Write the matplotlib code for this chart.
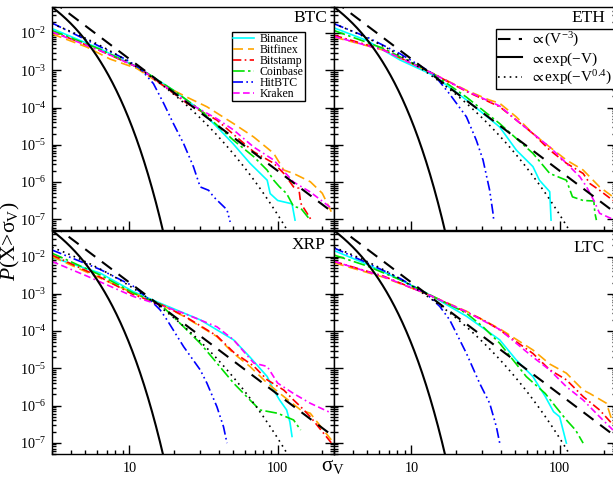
import numpy as np
import matplotlib
matplotlib.use('Agg')
import matplotlib.pyplot as plt
from matplotlib.ticker import LogLocator, NullFormatter, LogFormatterSciNotation
from matplotlib.lines import Line2D

plt.rcParams['font.family'] = ['Liberation Serif', 'DejaVu Serif']
plt.rcParams['mathtext.fontset'] = 'custom'
plt.rcParams['mathtext.rm'] = 'Liberation Serif'
plt.rcParams['mathtext.it'] = 'Liberation Serif:italic'
plt.rcParams['mathtext.bf'] = 'Liberation Serif:bold'
plt.rcParams['mathtext.fallback'] = 'stix'

# ---------------- data ----------------
exchanges = ['Binance', 'Bitfinex', 'Bitstamp', 'Coinbase', 'HitBTC', 'Kraken']
panels = ['BTC', 'ETH', 'XRP', 'LTC']

# BTC
btc_binance_v = [3, 6.3, 11.8, 19.8, 30, 41, 50, 65, 85, 89, 100, 125, 131]
btc_binance_p = [1.32e-2, 3.8e-3, 1.12e-3, 2.9e-4, 8.5e-5, 2.45e-5, 1.07e-5, 3.2e-6, 1.12e-6, 4.9e-7, 3.2e-7, 2.6e-7, 9.5e-8]
btc_bitfinex_v = [3, 5.15, 7.4, 11.2, 16.1, 24.4, 33.3, 50.4, 68.9, 94, 110, 128, 166, 200, 230]
btc_bitfinex_p = [9.5e-3, 4.2e-3, 2.0e-3, 1.12e-3, 4.4e-4, 1.9e-4, 1.05e-4, 3.7e-5, 1.62e-5, 5.9e-6, 2.1e-6, 1.7e-6, 1.02e-6, 5.0e-7, 1.6e-7]
btc_bitstamp_v = [3, 6.3, 11.8, 24.4, 38.9, 68.9, 94, 110, 128, 139, 143, 158, 170]
btc_bitstamp_p = [1.12e-2, 3.4e-3, 1.12e-3, 1.3e-4, 4.6e-5, 6.5e-6, 3.2e-6, 1.7e-6, 7.4e-7, 6.8e-7, 2.7e-7, 1.45e-7, 9.0e-8]
btc_coinbase_v = [3, 6.3, 11.8, 19.8, 30, 41, 50.4, 68.9, 84.8, 94, 103, 115, 128, 143, 166]
btc_coinbase_p = [1.17e-2, 3.7e-3, 1.12e-3, 2.9e-4, 8.7e-5, 2.8e-5, 1.32e-5, 4.8e-6, 2.1e-6, 1.12e-6, 7.4e-7, 4.9e-7, 2.2e-7, 2.0e-7, 9.5e-8]
btc_hitbtc_v = [3, 6.34, 9.6, 11.8, 14.5, 17, 19.8, 23.2, 27, 30, 34.2, 37, 45.5, 47.8]
btc_hitbtc_p = [1.86e-2, 4.3e-3, 1.9e-3, 1.12e-3, 4.4e-4, 1.3e-4, 3.7e-5, 1.07e-5, 2.6e-6, 7.4e-7, 6.0e-7, 4.0e-7, 1.8e-7, 8.5e-8]
btc_kraken_v = [3, 6.3, 11.8, 24.4, 38.9, 50.4, 68.9, 94, 128, 166, 230]
btc_kraken_p = [1.07e-2, 3.4e-3, 1.12e-3, 1.4e-4, 5.0e-5, 2.5e-5, 8.7e-6, 3.9e-6, 1.0e-6, 5.4e-7, 2.0e-7]

# ETH
eth_binance_v = [3, 5, 8.35, 14, 23.5, 39.4, 51, 66, 73, 85.7, 87.5]
eth_binance_p = [1.38e-2, 6.3e-3, 1.9e-3, 7.4e-4, 1.6e-4, 3.0e-5, 7.2e-6, 2.6e-6, 1.12e-6, 5.5e-7, 9.5e-8]
eth_bitfinex_v = [3, 6.44, 14, 23.5, 33.5, 39.4, 51, 66, 85.7, 111, 144, 186, 229]
eth_bitfinex_p = [7.8e-3, 3.5e-3, 8.1e-4, 2.9e-4, 1.6e-4, 1.3e-4, 5.6e-5, 2.0e-5, 8.7e-6, 3.9e-6, 2.1e-6, 7.4e-7, 4.0e-7]
eth_bitstamp_v = [3, 6.44, 14, 23.5, 39.4, 51, 66, 85.7, 111, 144, 160, 186, 229]
eth_bitstamp_p = [8.7e-3, 3.6e-3, 8.1e-4, 2.7e-4, 1.05e-4, 4.6e-5, 2.0e-5, 7.2e-6, 3.2e-6, 1.7e-6, 9.1e-7, 6.0e-7, 3.2e-7]
eth_coinbase_v = [3, 6.44, 14, 23.5, 39.4, 66, 85.7, 111, 122, 144, 170, 173, 177]
eth_coinbase_p = [1.17e-2, 3.9e-3, 8.1e-4, 1.9e-4, 3.7e-5, 5.9e-6, 1.7e-6, 1.12e-6, 4.0e-7, 3.2e-7, 3.1e-7, 1.45e-7, 9.5e-8]
eth_hitbtc_v = [3, 5, 8.35, 14, 18.1, 23.5, 27.4, 30.4, 33.7, 35.5, 36]
eth_hitbtc_p = [1.78e-2, 7.8e-3, 2.8e-3, 8.1e-4, 2.3e-4, 5.6e-5, 1.32e-5, 3.9e-6, 6.0e-7, 1.45e-7, 8.5e-8]
eth_kraken_v = [3, 6.44, 14, 23.5, 39.4, 51, 66, 85.7, 111, 137, 152, 170, 186, 229]
eth_kraken_p = [8.1e-3, 3.5e-3, 8.1e-4, 2.8e-4, 1.1e-4, 4.6e-5, 2.0e-5, 8.7e-6, 3.2e-6, 1.38e-6, 7.4e-7, 3.2e-7, 1.45e-7, 1.0e-7]

# XRP
xrp_binance_v = [3, 6.34, 10.6, 16.1, 30, 50.4, 65, 85, 94, 103, 115, 121, 125]
xrp_binance_p = [9.5e-3, 3.6e-3, 1.15e-3, 5.6e-4, 2.0e-4, 5.8e-5, 2.0e-5, 6.0e-6, 2.6e-6, 1.41e-6, 7.6e-7, 3.6e-7, 1.48e-7]
xrp_bitfinex_v = [3, 10.6, 16.1, 23.2, 38.9, 50.4, 65, 85, 110, 143, 166, 230]
xrp_bitfinex_p = [1.0e-2, 1.05e-3, 5.3e-4, 2.5e-4, 7.1e-5, 2.5e-5, 1.12e-5, 4.0e-6, 1.74e-6, 7.6e-7, 6.2e-7, 1.2e-7]
xrp_bitstamp_v = [3, 6.34, 10.6, 16.1, 23.2, 38.9, 50.4, 68.9, 85, 110, 128, 143, 166, 230]
xrp_bitstamp_p = [1.1e-2, 2.8e-3, 9.5e-4, 5.3e-4, 2.6e-4, 7.4e-5, 2.7e-5, 1.15e-5, 4.9e-6, 2.6e-6, 1.41e-6, 9.3e-7, 5.0e-7, 1.0e-7]
xrp_coinbase_v = [3, 6.34, 10.6, 16.1, 23.2, 30, 38.9, 50.4, 65, 76, 100, 128, 143]
xrp_coinbase_p = [1.23e-2, 3.2e-3, 1.05e-3, 5.3e-4, 1.3e-4, 4.7e-5, 1.38e-5, 4.0e-6, 1.41e-6, 7.6e-7, 6.2e-7, 4.1e-7, 2.2e-7]
xrp_hitbtc_v = [3, 6.34, 10.6, 14.5, 16.1, 17.9, 23.2, 30, 33.3, 38.9, 43.1, 45.5]
xrp_hitbtc_p = [1.5e-2, 4.5e-3, 1.6e-3, 5.6e-4, 3.7e-4, 2.0e-4, 3.8e-5, 9.1e-6, 4.0e-6, 9.3e-7, 2.7e-7, 9.8e-8]
xrp_kraken_v = [3, 5.15, 10.6, 16.1, 23.2, 38.9, 50.4, 69, 85, 100, 128, 166, 230]
xrp_kraken_p = [7.4e-3, 3.0e-3, 8.5e-4, 5.0e-4, 3.0e-4, 1.3e-4, 5.8e-5, 1.38e-5, 1.12e-5, 4.0e-6, 2.1e-6, 1.15e-6, 6.3e-7]

# LTC
ltc_binance_v = [3, 5, 8.35, 12.6, 23.5, 39.4, 51, 66, 80, 91, 100, 111]
ltc_binance_p = [1.45e-2, 6.2e-3, 2.4e-3, 1.05e-3, 2.5e-4, 5.8e-5, 1.66e-5, 6.0e-6, 1.74e-6, 6.8e-7, 5.0e-7, 9.8e-8]
ltc_bitfinex_v = [3, 6.44, 12.6, 23.5, 39.4, 66, 85.7, 111, 144, 160, 207, 229]
ltc_bitfinex_p = [6.8e-3, 2.8e-3, 1.0e-3, 3.4e-4, 1.15e-4, 3.1e-5, 1.3e-5, 7.4e-6, 2.6e-6, 2.1e-6, 1.15e-6, 3.3e-7]
ltc_bitstamp_v = [3, 6.44, 12.6, 23.5, 30.4, 39.4, 66, 85.7, 111, 144, 186, 225]
ltc_bitstamp_p = [7.4e-3, 3.0e-3, 1.0e-3, 3.2e-4, 2.0e-4, 1.07e-4, 2.5e-5, 9.1e-6, 4.9e-6, 1.74e-6, 7.6e-7, 3.3e-7]
ltc_coinbase_v = [3, 5, 8.35, 12.6, 23.5, 30.4, 39.4, 59.5, 80, 94, 111, 128, 144]
ltc_coinbase_p = [1.1e-2, 5.6e-3, 2.4e-3, 1.05e-3, 3.0e-4, 1.3e-4, 4.7e-5, 6.0e-6, 2.1e-6, 9.3e-7, 4.1e-7, 2.2e-7, 9.8e-8]
ltc_hitbtc_v = [3, 5, 8.35, 12.6, 15.5, 18.1, 23.5, 28.8, 33.7, 37.4, 39.4]
ltc_hitbtc_p = [1.7e-2, 6.8e-3, 2.6e-3, 1.0e-3, 4.6e-4, 2.0e-4, 2.5e-5, 4.0e-6, 1.15e-6, 2.7e-7, 9.8e-8]
ltc_kraken_v = [3, 6.44, 12.6, 23.5, 39.4, 66, 85.7, 111, 144, 186, 229]
ltc_kraken_p = [7.4e-3, 2.9e-3, 1.0e-3, 3.3e-4, 1.1e-4, 2.0e-5, 9.0e-6, 3.2e-6, 1.41e-6, 5.0e-7, 2.2e-7]

# reference curves: prop. to V^-3, exp(-V), exp(-V^0.4)
power_amp, power_exp = 2.0, -3.0
exp_amp, exp_rate = 1.0, 1.0
sexp_amp, sexp_rate, sexp_beta = 0.83, 2.48, 0.4
ref_labels = [r'$\propto$(V$^{-3}$)', r'$\propto$exp($-$V)', r'$\propto$exp($-$V$^{0.4}$)']

# ---------------- styling ----------------
colors = ['#00FFFF', '#FFA500', '#FF0000', '#00E000', '#0000FF', '#FF00FF']
styles = ['-', (0, (6, 3)), (0, (5, 2, 1, 2)), (0, (7, 2, 1.5, 2)),
          (0, (6, 2, 1, 2, 1, 2)), (0, (4, 2, 4, 2, 1, 2))]

data = {
    'BTC': [(btc_binance_v, btc_binance_p), (btc_bitfinex_v, btc_bitfinex_p), (btc_bitstamp_v, btc_bitstamp_p),
            (btc_coinbase_v, btc_coinbase_p), (btc_hitbtc_v, btc_hitbtc_p), (btc_kraken_v, btc_kraken_p)],
    'ETH': [(eth_binance_v, eth_binance_p), (eth_bitfinex_v, eth_bitfinex_p), (eth_bitstamp_v, eth_bitstamp_p),
            (eth_coinbase_v, eth_coinbase_p), (eth_hitbtc_v, eth_hitbtc_p), (eth_kraken_v, eth_kraken_p)],
    'XRP': [(xrp_binance_v, xrp_binance_p), (xrp_bitfinex_v, xrp_bitfinex_p), (xrp_bitstamp_v, xrp_bitstamp_p),
            (xrp_coinbase_v, xrp_coinbase_p), (xrp_hitbtc_v, xrp_hitbtc_p), (xrp_kraken_v, xrp_kraken_p)],
    'LTC': [(ltc_binance_v, ltc_binance_p), (ltc_bitfinex_v, ltc_bitfinex_p), (ltc_bitstamp_v, ltc_bitstamp_p),
            (ltc_coinbase_v, ltc_coinbase_p), (ltc_hitbtc_v, ltc_hitbtc_p), (ltc_kraken_v, ltc_kraken_p)],
}

W, H = 613, 479
fig = plt.figure(figsize=(W / 100, H / 100), dpi=100)


def pos(l, t, r, b):
    return [l / W, 1 - b / H, (r - l) / W, (b - t) / H]


boxes = {'BTC': (52, 7, 334, 230.5), 'ETH': (334, 7, 616, 230.5),
         'XRP': (52, 230.5, 334, 454), 'LTC': (334, 230.5, 616, 454)}
label_pos = {'BTC': (327, 18), 'ETH': (605, 18), 'XRP': (326, 245), 'LTC': (605, 248)}

vgrid = np.logspace(np.log10(3.0), np.log10(240.0), 500)
axes = {}
for name in panels:
    ax = fig.add_axes(pos(*boxes[name]))
    axes[name] = ax
    for (v, p), c, ls in zip(data[name], colors, styles):
        ax.plot(v, p, color=c, ls=ls, lw=1.2)
    ax.plot(vgrid, power_amp * vgrid ** power_exp, color='black', ls=(0, (6, 4)), lw=1.5)
    ax.plot(vgrid, exp_amp * np.exp(-exp_rate * vgrid), color='black', ls='-', lw=1.5)
    ax.plot(vgrid, sexp_amp * np.exp(-sexp_rate * vgrid ** sexp_beta), color='black', ls=(0, (1, 2.5)), lw=1.2)
    ax.set_xscale('log')
    ax.set_yscale('log')
    ax.set_xlim(3, 240)
    ax.set_ylim(5e-8, 5e-2)
    ax.set_xticks([10, 100])
    ax.set_xticklabels(['10', '100'])
    ax.xaxis.set_minor_locator(LogLocator(base=10, subs=np.arange(2, 10)))
    ax.xaxis.set_minor_formatter(NullFormatter())
    ax.yaxis.set_major_locator(LogLocator(base=10, numticks=20))
    ax.yaxis.set_major_formatter(LogFormatterSciNotation())
    ax.yaxis.set_minor_locator(LogLocator(base=10, subs=np.arange(2, 10), numticks=20))
    ax.yaxis.set_minor_formatter(NullFormatter())
    ax.tick_params(which='both', direction='in', left=True, right=True, top=False, bottom=True,
                   labelsize=10.2, width=1.0)
    ax.tick_params(which='major', length=6.5, pad=4)
    ax.tick_params(which='minor', length=3.2)
    ax.tick_params(axis='x', which='major', pad=6)
    for s in ax.spines.values():
        s.set_linewidth(1.0)
    if name in ('BTC', 'ETH'):
        ax.tick_params(axis='x', labelbottom=False)
    if name in ('ETH', 'LTC'):
        ax.tick_params(axis='y', labelleft=False)
    lx, ly = label_pos[name]
    fig.text(lx / W, 1 - ly / H, name, ha='right', va='center', fontsize=12.5)

# legends
ex_handles = [Line2D([], [], color=c, ls=ls, lw=1.2) for c, ls in zip(colors, styles)]
leg1 = axes['BTC'].legend(ex_handles, exchanges, loc='upper left',
                          bbox_to_anchor=((232 - 52) / 282, (230.5 - 31.7) / 223.5),
                          fontsize=8.5, frameon=True, fancybox=False, edgecolor='black', framealpha=1,
                          borderpad=0.1, labelspacing=-0.08, handlelength=1.8, handletextpad=0.45,
                          borderaxespad=0)
leg1.get_frame().set_linewidth(1.0)

ref_handles = [Line2D([], [], color='black', ls=(0, (6, 4)), lw=1.5),
               Line2D([], [], color='black', ls='-', lw=1.5),
               Line2D([], [], color='black', ls=(0, (1, 2.5)), lw=1.2)]
leg2 = axes['ETH'].legend(ref_handles, ref_labels, loc='upper left',
                          bbox_to_anchor=((496 - 334) / 282, (230.5 - 29) / 223.5),
                          fontsize=11, frameon=True, fancybox=False, edgecolor='black', framealpha=1,
                          borderpad=0.12, labelspacing=0.08, handlelength=1.6, handletextpad=0.5,
                          borderaxespad=0)
leg2.get_frame().set_linewidth(1.0)

fig.text(10.5 / W, 1 - 241 / H, '$P$(X>\u03c3$_{\\rm V}$)', rotation=90, ha='center', va='center', fontsize=15.5)
fig.text(333 / W, 1 - 467 / H, '\u03c3$_{\\rm V}$', ha='center', va='center', fontsize=15)

fig.savefig('out.png', dpi=100)
